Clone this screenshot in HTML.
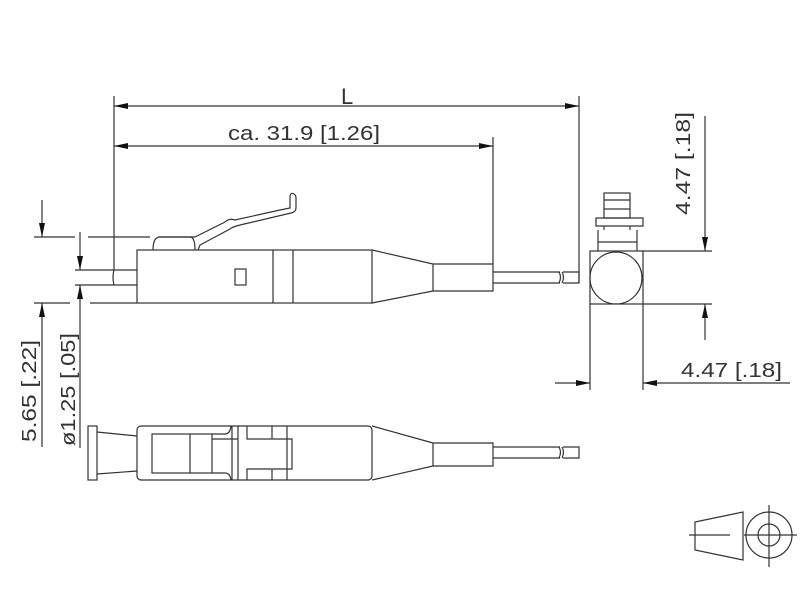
<!DOCTYPE html>
<html><head><style>body{margin:0;background:#fff}svg{display:block}</style></head><body>
<svg width="800" height="600" viewBox="0 0 800 600" xmlns="http://www.w3.org/2000/svg">
<defs>
<marker id="a" viewBox="0 0 14 6" refX="14" refY="3" markerWidth="14" markerHeight="6" markerUnits="userSpaceOnUse" orient="auto-start-reverse"><path d="M0,0L14,3L0,6z" fill="#111"/></marker>
</defs>
<g stroke="#333" stroke-width="1.2" fill="none" font-family="Liberation Sans, sans-serif">
<line x1="114" y1="96" x2="114" y2="270"/>
<line x1="579" y1="96" x2="579" y2="283"/>
<line x1="493" y1="137" x2="493" y2="264"/>
<line x1="114" y1="106" x2="579" y2="106" marker-start="url(#a)" marker-end="url(#a)"/>
<line x1="114" y1="146" x2="493" y2="146" marker-start="url(#a)" marker-end="url(#a)"/>
<rect x="137" y="250" width="235" height="53"/>
<line x1="273" y1="250" x2="273" y2="303"/>
<line x1="293" y1="250" x2="293" y2="303"/>
<rect x="235" y="269" width="11" height="16"/>
<path d="M114,270 H137 M114,285 H137 M114,270 q-2,7 0,15"/>
<path d="M153,250 q0,-12 6,-13 H190 q5,0 5,13 M195,237 L225,222 q4,-4 10,-2 L280,210 L290,208 V196 q1,-4 4,-2 q2,1 2,4 V208 q0,4 -5,5 L240,225 q-8,2 -10,4 L200,245 L198,250"/>
<path d="M159,237 H195"/>
<path d="M372,250 L433,264 V291 L372,303 M433,264 H493 V291 H433 M493,272 H560 M493,283 H560 M563,272 H579 V283 H563"/>
<path d="M559,272 q3,5 0,11 M562,272 q3,5 0,11"/>
<path d="M34,237 H75 M88,237 H150 M34,303 H70 M90,303 H137 M75,270 H114 M75,285 H114"/>
<line x1="42" y1="200" x2="42" y2="237" marker-end="url(#a)"/>
<line x1="42" y1="447" x2="42" y2="303" marker-end="url(#a)"/>
<line x1="80" y1="232" x2="80" y2="270" marker-end="url(#a)"/>
<line x1="80" y1="448" x2="80" y2="285" marker-end="url(#a)"/>
<rect x="88" y="426" width="9" height="54"/>
<path d="M97,432 L137,436 M97,474 L137,471"/>
<rect x="137" y="426" width="235" height="54" rx="4"/>
<rect x="152" y="434" width="60" height="39"/>
<line x1="190" y1="434" x2="190" y2="473"/>
<path d="M212,434 H225 q5,0 6,-8 M212,473 H225 q5,0 6,7 M212,439 H238 V473 M238,426 V439 M238,473 V480 M238,439 V473 M232,426 V480 M247,426 V439 H272 V426 M247,480 V469 H272 V480 M272,439 H292 V469 H272 M287,426 V480"/>
<path d="M372,426 L433,443 V466 L372,480 M433,443 H493 V466 H433 M493,447 H560 M493,458 H560 M563,447 H579 V458 H563"/>
<path d="M559,447 q3,5 0,11 M562,447 q3,5 0,11"/>
<rect x="590" y="251" width="53" height="53"/>
<circle cx="616" cy="278" r="26"/>
<rect x="604" y="193" width="26" height="25"/>
<path d="M604,200 H630 M604,209 H630"/>
<path d="M596,218 H643 V226 H596 z M598,230 V251 M637,230 V251 M598,242 H637 M604,226 V230 M630,226 V230"/>
<path d="M643,251 H712 M643,304 H712 M590,304 V390 M643,304 V390"/>
<line x1="705" y1="116" x2="705" y2="251" marker-end="url(#a)"/>
<line x1="705" y1="340" x2="705" y2="304" marker-end="url(#a)"/>
<line x1="555" y1="383" x2="590" y2="383" marker-end="url(#a)"/>
<line x1="790" y1="383" x2="643" y2="383" marker-end="url(#a)"/>
<path d="M695,522 L743,512 V560 L695,550 z M689,535 H730"/>
<circle cx="769" cy="535" r="23"/>
<circle cx="769" cy="535" r="11"/>
<path d="M744,535 H797 M769,505 V567"/>
</g>
<g font-family="Liberation Sans, sans-serif" font-size="20" fill="#333">
<text x="341" y="104" font-size="22">L</text>
<text x="228" y="140" textLength="152" lengthAdjust="spacingAndGlyphs">ca. 31.9 [1.26]</text>
<text x="681" y="377" textLength="101" lengthAdjust="spacingAndGlyphs">4.47 [.18]</text>
<text transform="translate(690,215) rotate(-90)" textLength="103" lengthAdjust="spacingAndGlyphs">4.47 [.18]</text>
<text transform="translate(36,442) rotate(-90)" textLength="102" lengthAdjust="spacingAndGlyphs">5.65 [.22]</text>
<text transform="translate(75,446) rotate(-90)" textLength="113" lengthAdjust="spacingAndGlyphs">ø1.25 [.05]</text>
</g>
</svg>
</body></html>
